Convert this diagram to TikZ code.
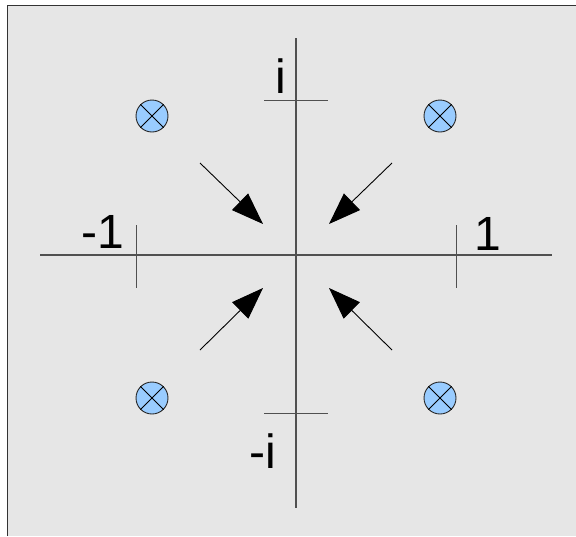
\documentclass[tikz,border=0pt]{standalone}
\usepackage{fontspec}
\setmainfont{Liberation Sans}
\usetikzlibrary{arrows.meta, positioning}
\definecolor{panelgray}{RGB}{230, 230, 230}
\definecolor{dotblue}{RGB}{153, 204, 255}
\definecolor{axisgray}{RGB}{80, 80, 80}

\begin{document}
\begin{tikzpicture}[
        x=1pt, y=-1pt,
        axis/.style={draw=axisgray, line width=1.1pt},
        tick/.style={draw=axisgray, line width=1pt},
        label/.style={anchor=base, font=\fontsize{48}{48}\selectfont, inner sep=0pt},
        pole/.style={circle, draw=black!85, fill=dotblue, line width=0.9pt, minimum size=32pt, inner sep=0pt},
        arrow/.style={-{Triangle[length=32pt, width=23pt]}, line width=0.9pt, draw=black}
    ]

        % Frame
        \useasboundingbox (0,0) rectangle (576,536);
        \fill[panelgray] (7,5) rectangle (576,536);
        \draw[black!80, line width=1pt] (7,536) -- (7,5) -- (576,5);

        % Axes
        \coordinate (west) at (40,255);
        \coordinate (east) at (552,255);
        \coordinate (north) at (296,38);
        \coordinate (south) at (296,508);
        \draw[axis] (west) -- (east);
        \draw[axis] (north) -- (south);

        % Ticks
        \draw[tick] (136,225) coordinate (m1a) -- (136,288) coordinate (m1b);
        \draw[tick] (456,225) coordinate (p1a) -- (456,288) coordinate (p1b);
        \draw[tick] (264,100) coordinate (pia) -- (328,100) coordinate (pib);
        \draw[tick] (264,413) coordinate (mia) -- (328,413) coordinate (mib);

        % Labels
        \node[label] (lm1) at (103,248) {-1};
        \node[label] (lp1) at (488,250) {1};
        \node[label] (lpi) at (281,93) {i};
        \node[label] (lmi) at (263,468) {-i};

        % Poles
        \node[pole] (nw) at (152,116) {};
        \node[pole] (ne) at (440,116) {};
        \node[pole] (sw) at (152,398) {};
        \node[pole] (se) at (440,398) {};
        \foreach \p in {nw, ne, sw, se} {
            \draw[line width=0.9pt] (\p.45) -- (\p.225);
            \draw[line width=0.9pt] (\p.135) -- (\p.315);
        }

        % Arrows
        \coordinate (anw) at (200,163);
        \coordinate (ane) at (392,163);
        \coordinate (asw) at (200,350);
        \coordinate (ase) at (392,350);
        \coordinate (tnw) at (263,224);
        \coordinate (tne) at (329,224);
        \coordinate (tsw) at (263,288);
        \coordinate (tse) at (329,288);
        \draw[arrow] (anw) -- (tnw);
        \draw[arrow] (ane) -- (tne);
        \draw[arrow] (asw) -- (tsw);
        \draw[arrow] (ase) -- (tse);
    \end{tikzpicture}
\end{document}
